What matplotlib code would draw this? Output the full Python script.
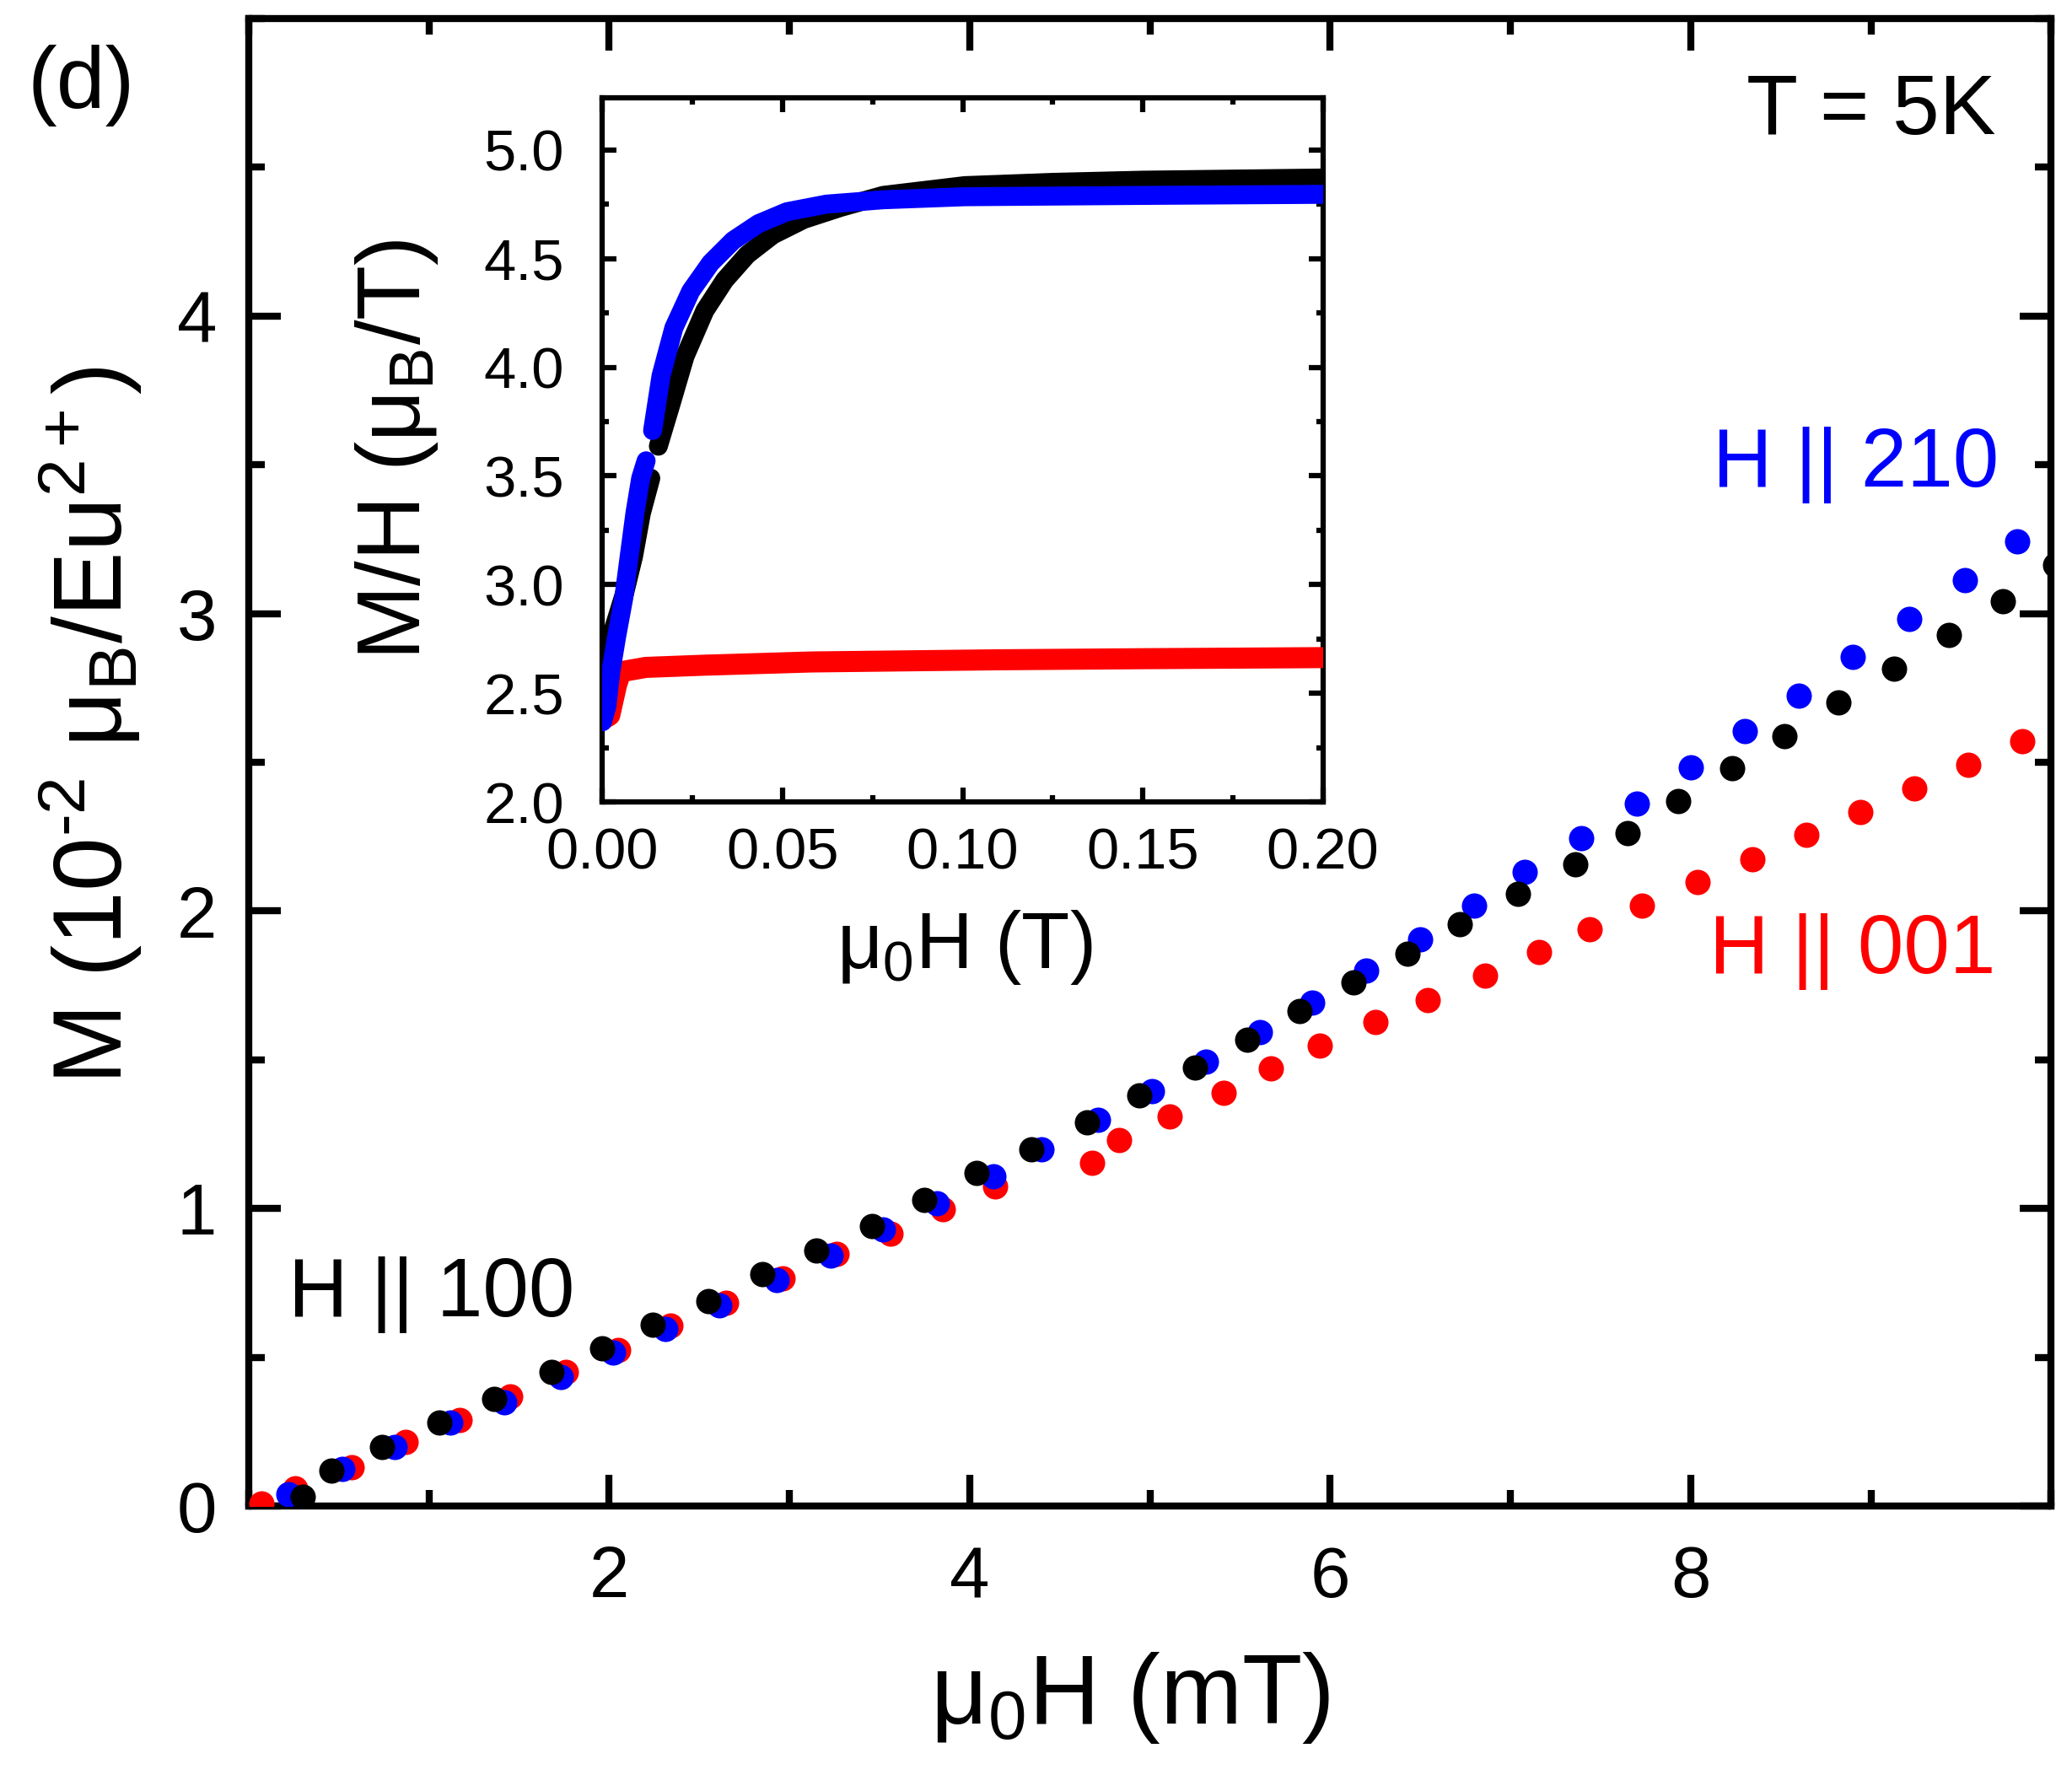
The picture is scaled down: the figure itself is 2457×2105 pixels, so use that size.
import numpy as np
import matplotlib
matplotlib.use('Agg')
import matplotlib.pyplot as plt
from matplotlib.ticker import MultipleLocator

# main panel: M vs mu0H (mT), three field directions
k_x = [0.30, 0.46, 0.74, 1.06, 1.36, 1.68, 1.96, 2.24, 2.55, 2.85, 3.15, 3.46, 3.75, 4.04, 4.34,
       4.65, 4.94, 5.25, 5.54, 5.83, 6.13, 6.43, 6.72, 7.04, 7.36, 7.65, 7.93, 8.23, 8.52, 8.82,
       9.13, 9.43, 9.73, 10.02]
k_y = [0.03, 0.12, 0.20, 0.28, 0.36, 0.45, 0.53, 0.61, 0.69, 0.78, 0.86, 0.94, 1.03, 1.12, 1.20,
       1.29, 1.38, 1.475, 1.567, 1.663, 1.759, 1.858, 1.956, 2.057, 2.158, 2.263, 2.369, 2.481, 2.587, 2.702,
       2.815, 2.929, 3.042, 3.164]
b_x = [0.22, 0.52, 0.81, 1.12, 1.42, 1.73, 2.02, 2.31, 2.61, 2.93, 3.23, 3.52, 3.82, 4.13, 4.40,
       4.71, 5.01, 5.31, 5.61, 5.90, 6.20, 6.50, 6.80, 7.08, 7.39, 7.70, 8.00, 8.30, 8.60, 8.90,
       9.21, 9.52, 9.81]
b_y = [0.04, 0.125, 0.20, 0.28, 0.35, 0.435, 0.517, 0.595, 0.676, 0.761, 0.843, 0.929, 1.018, 1.109, 1.199,
       1.297, 1.395, 1.494, 1.592, 1.693, 1.799, 1.904, 2.017, 2.132, 2.244, 2.362, 2.484, 2.604, 2.725, 2.855,
       2.981, 3.113, 3.242]
r_x = [0.07, 0.26, 0.57, 0.87, 1.17, 1.45, 1.76, 2.05, 2.34, 2.65, 2.96, 3.26, 3.56, 3.85, 4.14,
       4.68, 4.83, 5.11, 5.41, 5.67, 5.94, 6.25, 6.54, 6.86, 7.16, 7.44, 7.73, 8.04, 8.34, 8.64,
       8.94, 9.24, 9.54, 9.84]
r_y = [0.01, 0.06, 0.13, 0.215, 0.29, 0.37, 0.45, 0.525, 0.606, 0.683, 0.765, 0.847, 0.917, 0.998, 1.075,
       1.153, 1.231, 1.311, 1.389, 1.470, 1.548, 1.628, 1.702, 1.782, 1.862, 1.940, 2.017, 2.097, 2.174, 2.256,
       2.334, 2.413, 2.491, 2.571]

# inset: M/H vs mu0H (T); nan marks the gap between the two sweeps
ik_x = [0.0, 0.0031, 0.0061, 0.0086, 0.0108, 0.0134, np.nan, 0.0155, 0.019, 0.0229, 0.0284, 0.0339,
        0.0402, 0.0473, 0.0559, 0.0661, 0.0779, 0.1006, 0.125, 0.15, 0.175, 0.2]
ik_y = [2.66, 2.80, 2.96, 3.13, 3.33, 3.49, np.nan, 3.637, 3.83, 4.05, 4.26, 4.40,
        4.518, 4.609, 4.68, 4.735, 4.79, 4.835, 4.85, 4.86, 4.865, 4.87]
ib_x = [0.0, 0.0012, 0.0023, 0.0039, 0.0059, 0.0074, 0.009, 0.0106, 0.0121, np.nan, 0.0139, 0.01625, 0.0198,
        0.0245, 0.030, 0.0363, 0.0433, 0.0512, 0.0622, 0.0779, 0.1006, 0.15, 0.2]
ib_y = [2.37, 2.44, 2.60, 2.76, 2.94, 3.13, 3.33, 3.49, 3.57, np.nan, 3.709, 3.961, 4.181,
        4.35, 4.479, 4.583, 4.66, 4.715, 4.75, 4.77, 4.784, 4.79, 4.795]
ir_x = [0.0, 0.002, 0.0039, 0.0051, 0.012, 0.028, 0.058, 0.11, 0.15, 0.2]
ir_y = [2.38, 2.40, 2.54, 2.60, 2.62, 2.63, 2.645, 2.655, 2.66, 2.665]

plt.rcParams['font.family'] = ['Liberation Sans', 'DejaVu Sans']
plt.rcParams['mathtext.fontset'] = 'custom'
plt.rcParams['mathtext.rm'] = 'Liberation Sans'
plt.rcParams['mathtext.it'] = 'Liberation Sans'
plt.rcParams['mathtext.default'] = 'regular'

fig = plt.figure(figsize=(8.19, 7.017), dpi=300)
ax = fig.add_axes([0.120, 0.1515, 0.870, 0.838])

ms = 52
ax.scatter(r_x, r_y, s=ms, color='#ff0000', linewidths=0, zorder=3)
ax.scatter(b_x, b_y, s=ms, color='#0000ff', linewidths=0, zorder=4)
ax.scatter(k_x, k_y, s=ms, color='black', linewidths=0, zorder=5)

ax.set_xlim(0, 10)
ax.set_ylim(0, 5)
ax.set_xticks([2, 4, 6, 8])
ax.set_yticks([0, 1, 2, 3, 4])
ax.xaxis.set_minor_locator(MultipleLocator(1))
ax.yaxis.set_minor_locator(MultipleLocator(0.5))
ax.tick_params(which='both', direction='in', top=True, right=True, width=2)
ax.tick_params(which='major', length=9, labelsize=20.5)
ax.tick_params(which='minor', length=4.5)
ax.tick_params(axis='x', which='major', pad=11)
ax.tick_params(axis='y', which='major', pad=9)
for s in ax.spines.values():
    s.set_linewidth(2)

ax.set_xlabel('μ$_0$H (mT)', fontsize=28)
ax.set_ylabel('M (10$^{\u2010 2}$ μ$_B$/Eu$^{2+}$)', fontsize=27.5)
ax.xaxis.set_label_coords(0.489, -0.097)
ax.yaxis.set_label_coords(-0.058, 0.525)

ax.text(0.969, 0.937, 'T = 5K', transform=ax.transAxes, fontsize=24, ha='right', va='center')
ax.text(0.971, 0.700, 'H || 210', transform=ax.transAxes, fontsize=23.5, ha='right', va='center', color='#0000ff')
ax.text(0.969, 0.373, 'H || 001', transform=ax.transAxes, fontsize=23.5, ha='right', va='center', color='#ff0000')
ax.text(0.022, 0.142, 'H || 100', transform=ax.transAxes, fontsize=23.5, ha='left', va='center', color='black')
fig.text(0.039, 0.952, '(d)', fontsize=25, ha='center', va='center')

# inset
ins = fig.add_axes([0.2908, 0.548, 0.3476, 0.397])
ins.plot(ir_x, ir_y, color='#ff0000', lw=6, solid_capstyle='round', zorder=3)
ins.plot(ik_x, ik_y, color='black', lw=5.4, solid_capstyle='round', zorder=4)
ins.plot(ib_x, ib_y, color='#0000ff', lw=5.4, solid_capstyle='round', zorder=5)
ins.set_xlim(0, 0.2)
ins.set_ylim(2.0, 5.24)
ins.set_xticks([0.0, 0.05, 0.10, 0.15, 0.20])
ins.set_xticklabels(['0.00', '0.05', '0.10', '0.15', '0.20'])
ins.set_yticks([2.0, 2.5, 3.0, 3.5, 4.0, 4.5, 5.0])
ins.set_yticklabels(['2.0', '2.5', '3.0', '3.5', '4.0', '4.5', '5.0'])
ins.xaxis.set_minor_locator(MultipleLocator(0.025))
ins.yaxis.set_minor_locator(MultipleLocator(0.25))
ins.tick_params(which='both', direction='in', top=True, right=True, width=1.5)
ins.tick_params(which='major', length=4, labelsize=16.5)
ins.tick_params(which='minor', length=2)
ins.tick_params(axis='x', which='major', pad=7)
ins.tick_params(axis='y', which='major', pad=11)
for s in ins.spines.values():
    s.set_linewidth(1.5)
ins.set_xlabel('μ$_0$H (T)', fontsize=22.5)
ins.set_ylabel('M/H (μ$_B$/T)', fontsize=25.5)
ins.xaxis.set_label_coords(0.503, -0.15)
ins.yaxis.set_label_coords(-0.225, 0.5)

fig.savefig('out.png', dpi=300)
